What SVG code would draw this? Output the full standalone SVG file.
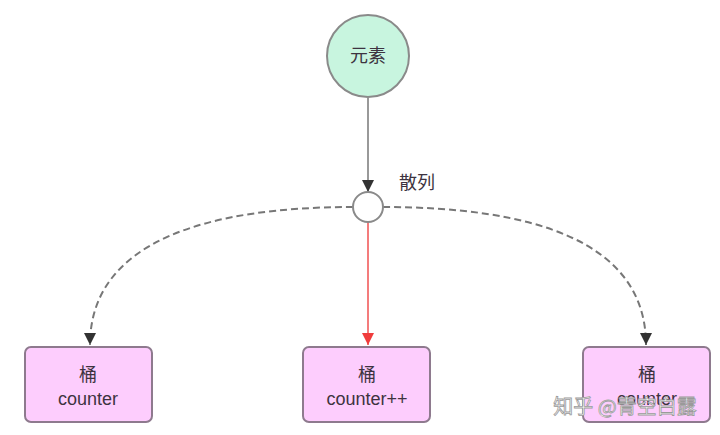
<svg xmlns="http://www.w3.org/2000/svg" width="720" height="435" viewBox="0 0 720 435">
<defs>
<style>
.txt{font-family:"Liberation Sans","Noto Sans CJK SC",sans-serif;font-size:18px;fill:#3d3340;text-anchor:middle}
.box{fill:#fdcdfd;stroke:#8e7a8e;stroke-width:2}
.dash{fill:none;stroke:#777;stroke-width:2;stroke-dasharray:7,4}
.wm{font-family:"Noto Sans CJK SC",sans-serif;font-size:20px;fill:#ffffff;stroke:#9a9a9a;stroke-width:0.8;text-anchor:middle}
</style>
<marker id="ad" viewBox="0 0 10 10" refX="10" refY="5" markerWidth="10" markerHeight="10" markerUnits="userSpaceOnUse" orient="auto"><path d="M0,0 L10,5 L0,10 z" fill="#333"/></marker>
<marker id="ar" viewBox="0 0 10 10" refX="10" refY="5" markerWidth="10" markerHeight="10" markerUnits="userSpaceOnUse" orient="auto"><path d="M0,0 L10,5 L0,10 z" fill="#f03c3c"/></marker>
<marker id="ad2" viewBox="0 0 10 10" refX="10" refY="5" markerWidth="18" markerHeight="12" markerUnits="userSpaceOnUse" orient="auto"><path d="M0,0 L10,5 L0,10 z" fill="#333"/></marker>
<marker id="ar2" viewBox="0 0 10 10" refX="10" refY="5" markerWidth="18" markerHeight="12" markerUnits="userSpaceOnUse" orient="auto"><path d="M0,0 L10,5 L0,10 z" fill="#f03c3c"/></marker>
</defs>
<rect width="720" height="435" fill="#ffffff"/>
<g id="connectors">
<line x1="368" y1="98" x2="368" y2="192" stroke="#999" stroke-width="2" marker-end="url(#ad2)"/>
<line x1="368" y1="222" x2="368" y2="345" stroke="#f05050" stroke-width="1.5" marker-end="url(#ar2)"/>
<path class="dash" d="M353,207 C210,207 90,240 90,345" marker-end="url(#ad2)"/>
<path class="dash" d="M383,207 C530,207 646,240 646,345" marker-end="url(#ad2)"/>
<text class="txt" x="417" y="189">散列</text>
</g>
<g id="element">
<circle cx="368" cy="56" r="41" fill="#c8f5df" stroke="#8a8a8a" stroke-width="2"/>
<text class="txt" x="368" y="62">元素</text>
</g>
<g id="hash">
<circle cx="368" cy="207" r="15" fill="#ffffff" stroke="#8a8a8a" stroke-width="2"/>
</g>
<g id="bucket1">
<rect class="box" x="25" y="347" width="127" height="75" rx="6"/>
<text class="txt" x="88" y="381">桶</text>
<text class="txt" x="88" y="405">counter</text>
</g>
<g id="bucket2">
<rect class="box" x="303" y="347" width="127" height="75" rx="6"/>
<text class="txt" x="367" y="381">桶</text>
<text class="txt" x="367" y="405">counter++</text>
</g>
<g id="bucket3">
<rect class="box" x="583" y="347" width="127" height="75" rx="6"/>
<text class="txt" x="647" y="381">桶</text>
<text class="txt" x="647" y="405">counter</text>
</g>
<text class="wm" x="625" y="414">知乎 @青空白露</text>
</svg>
